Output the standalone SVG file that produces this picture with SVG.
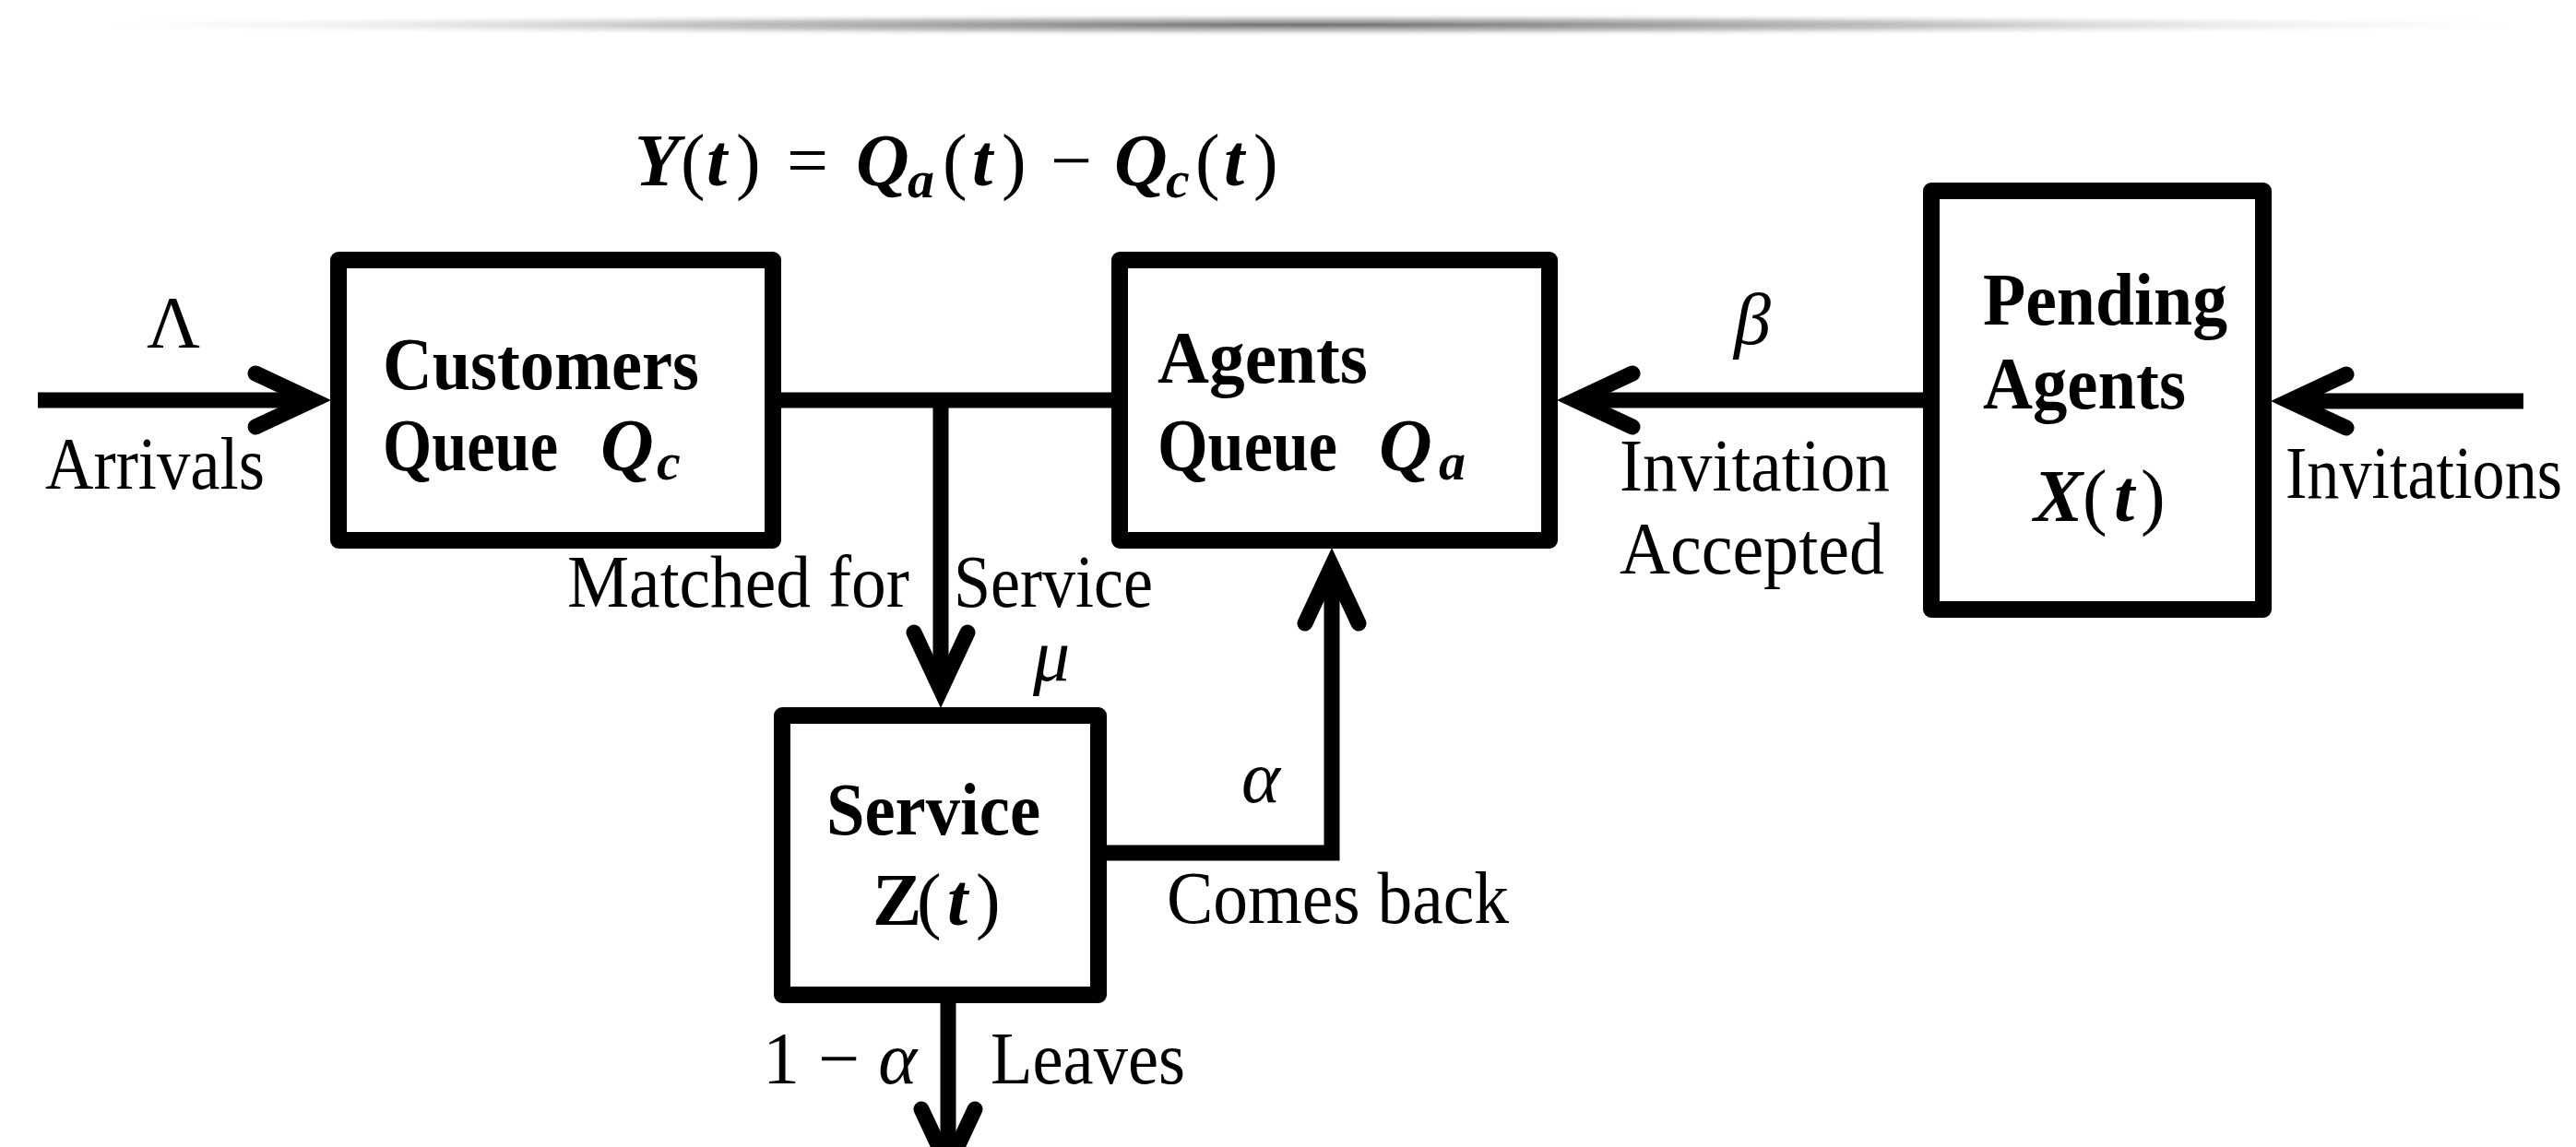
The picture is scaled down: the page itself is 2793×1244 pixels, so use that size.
<svg xmlns="http://www.w3.org/2000/svg" width="2793" height="1244" viewBox="0 0 2793 1244">
<style>
.box{fill:#fff;stroke:#000;stroke-width:18;stroke-linejoin:round}
.conn{fill:none;stroke:#000;stroke-width:17;stroke-linejoin:miter}
.t{font-family:"Liberation Serif","Times New Roman",serif;font-size:80px;fill:#000}
.b{font-weight:bold}
.m{font-weight:bold;font-style:italic}
.up{font-weight:normal;font-style:normal}
.g{font-style:italic}
.sub{font-size:58px}
</style>
<defs>
<radialGradient id="shadow" cx="0.5" cy="0.5" r="0.5">
<stop offset="0" stop-color="#6e6e6e" stop-opacity="1"/>
<stop offset="0.5" stop-color="#a0a0a0" stop-opacity="0.6"/>
<stop offset="1" stop-color="#ffffff" stop-opacity="0"/>
</radialGradient>
<marker id="arr" markerUnits="userSpaceOnUse" markerWidth="10" markerHeight="10" orient="auto" overflow="visible" refX="0" refY="0">
<path d="M-62,-29 L0,0 L-62,29" fill="none" stroke="#000" stroke-width="17" stroke-linecap="round" stroke-linejoin="miter"/>
</marker>
</defs>
<rect x="0" y="0" width="2793" height="1244" fill="#fff"/>
<ellipse cx="1420" cy="27" rx="1400" ry="13" fill="url(#shadow)"/>

<g id="connectors">
<path class="conn" d="M41,434 H339" marker-end="url(#arr)"/>
<path class="conn" d="M847,434 H1205"/>
<path class="conn" d="M1020,434 V748" marker-end="url(#arr)"/>
<path class="conn" d="M2085,434 H1708" marker-end="url(#arr)"/>
<path class="conn" d="M2736,435 H2482" marker-end="url(#arr)"/>
<path class="conn" d="M1200,925 H1444 V614" marker-end="url(#arr)"/>
<path class="conn" d="M1028,1088 V1265" marker-end="url(#arr)"/>
</g>

<g id="customers-queue">
<rect class="box" x="367" y="282" width="471" height="304"/>
<text class="t b" x="415" y="422" textLength="343" lengthAdjust="spacingAndGlyphs">Customers</text>
<text class="t b" x="415" y="510" textLength="190" lengthAdjust="spacingAndGlyphs">Queue</text>
<text class="t m" y="510"><tspan x="651">Q</tspan><tspan class="sub" x="712" y="520">c</tspan></text>
</g>

<g id="agents-queue">
<rect class="box" x="1214" y="282" width="466" height="304"/>
<text class="t b" x="1255" y="415" textLength="228" lengthAdjust="spacingAndGlyphs">Agents</text>
<text class="t b" x="1255" y="510" textLength="195" lengthAdjust="spacingAndGlyphs">Queue</text>
<text class="t m" y="510"><tspan x="1495">Q</tspan><tspan class="sub" x="1560" y="520">a</tspan></text>
</g>

<g id="pending-agents">
<rect class="box" x="2094" y="207" width="360" height="454"/>
<text class="t b" x="2150" y="352" textLength="265" lengthAdjust="spacingAndGlyphs">Pending</text>
<text class="t b" x="2150" y="443" textLength="220" lengthAdjust="spacingAndGlyphs">Agents</text>
<text class="t m" y="565"><tspan x="2205">X</tspan><tspan class="up" x="2258">(</tspan><tspan x="2292">t</tspan><tspan class="up" x="2321">)</tspan></text>
</g>

<g id="service">
<rect class="box" x="848" y="776" width="343" height="303"/>
<text class="t b" x="896" y="905" textLength="232" lengthAdjust="spacingAndGlyphs">Service</text>
<text class="t b" y="1003"><tspan x="946">Z</tspan><tspan class="up" x="994">(</tspan><tspan class="m" x="1027">t</tspan><tspan class="up" x="1058">)</tspan></text>
</g>

<g id="labels">
<text class="t m" y="201"><tspan x="688">Y</tspan><tspan class="up" x="738">(</tspan><tspan x="766">t</tspan><tspan class="up" x="798">)</tspan><tspan class="up" x="853">=</tspan><tspan x="928">Q</tspan><tspan class="sub" x="984" y="214">a</tspan><tspan class="up" x="1022" y="201">(</tspan><tspan x="1054">t</tspan><tspan class="up" x="1086">)</tspan><tspan class="up" x="1139">−</tspan><tspan x="1208">Q</tspan><tspan class="sub" x="1264" y="214">c</tspan><tspan class="up" x="1296" y="201">(</tspan><tspan x="1327">t</tspan><tspan class="up" x="1359">)</tspan></text>
<text class="t" x="188" y="377" text-anchor="middle">Λ</text>
<text class="t" x="49" y="530" textLength="238" lengthAdjust="spacingAndGlyphs">Arrivals</text>
<text class="t g" x="1880" y="373">β</text>
<text class="t" x="1756" y="532" textLength="293" lengthAdjust="spacingAndGlyphs">Invitation</text>
<text class="t" x="1756" y="622" textLength="287" lengthAdjust="spacingAndGlyphs">Accepted</text>
<text class="t" x="2478" y="540" textLength="300" lengthAdjust="spacingAndGlyphs">Invitations</text>
<text class="t" x="615" y="658" textLength="371" lengthAdjust="spacingAndGlyphs">Matched for</text>
<text class="t" x="1034" y="658" textLength="216" lengthAdjust="spacingAndGlyphs">Service</text>
<text class="t g" x="1120" y="738">μ</text>
<text class="t g" x="1346" y="870">α</text>
<text class="t" x="1265" y="1001" textLength="371" lengthAdjust="spacingAndGlyphs">Comes back</text>
<text class="t" x="827" y="1175">1 − <tspan class="g">α</tspan></text>
<text class="t" x="1074" y="1175" textLength="211" lengthAdjust="spacingAndGlyphs">Leaves</text>
</g>
</svg>
